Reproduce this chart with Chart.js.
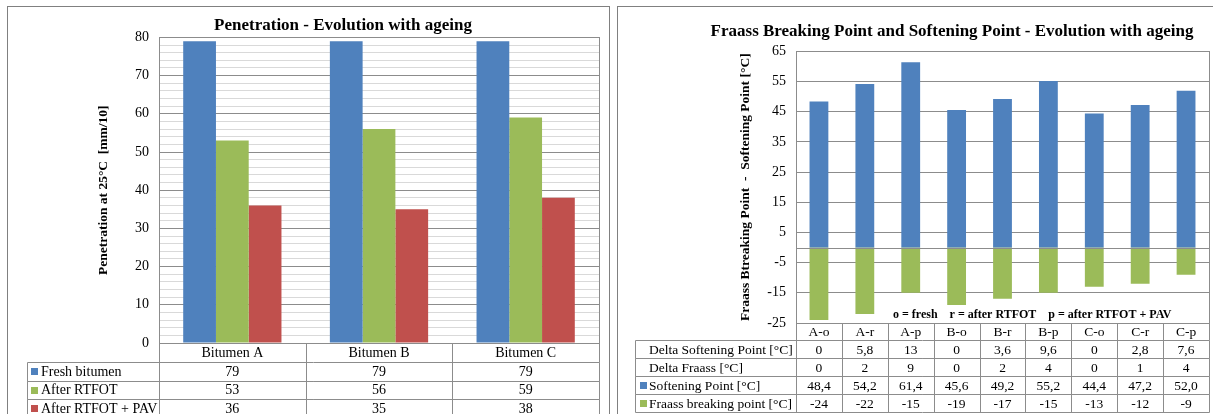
<!DOCTYPE html>
<html>
<head>
<meta charset="utf-8">
<title>Penetration / Fraass and Softening Point</title>
<script src="https://cdn.jsdelivr.net/npm/chart.js@4.4.1/dist/chart.umd.min.js"></script>
<style>
  html, body { margin: 0; padding: 0; background: #fff; }
  body { width: 1213px; height: 414px; overflow: hidden; position: relative; }
  .frame { position: absolute; border: 1px solid #808080; box-sizing: border-box; }
  canvas { position: absolute; top: 0; }
</style>
</head>
<body>
<div class="frame" style="left:7px; top:6px; width:603px; height:430px;"></div>
<div class="frame" style="left:617px; top:6px; width:620px; height:430px;"></div>
<canvas id="chartPen" width="613" height="414" style="left:0"></canvas>
<canvas id="chartFraass" width="600" height="414" style="left:613px"></canvas>
<script>
// ---- data: penetration chart
const bitumens = ["Bitumen A", "Bitumen B", "Bitumen C"];
const freshPen = [79, 79, 79];
const rtfotPen = [53, 56, 59];
const pavPen = [36, 35, 38];

// ---- data: Fraass / softening point chart
const samples = ["A-o", "A-r", "A-p", "B-o", "B-r", "B-p", "C-o", "C-r", "C-p"];
const deltaSoftening = [0, 5.8, 13, 0, 3.6, 9.6, 0, 2.8, 7.6];
const deltaFraass = [0, 2, 9, 0, 2, 4, 0, 1, 4];
const softeningPoint = [48.4, 54.2, 61.4, 45.6, 49.2, 55.2, 44.4, 47.2, 52.0];
const fraassPoint = [-24, -22, -15, -19, -17, -15, -13, -12, -9];

const BLUE = "#4f81bd";
const GREEN = "#9bbb59";
const RED = "#c0504d";
const LINE = "#8c8c8c";
const SERIF = "'Times New Roman', 'Liberation Serif', serif";

const comma = (v) => String(v).replace(".", ",");
const comma1 = (v) => v.toFixed(1).replace(".", ",");

/* ==========================
   DATA TABLE UNDER THE PLOT
========================== */
const dataTable = {
  id: "dataTable",
  afterDraw(chart, args, opts) {
    const { ctx, chartArea: area } = chart;
    const x = chart.scales.x;
    const n = chart.data.labels.length;
    const colW = area.width / n;
    const px = (v) => Math.round(v) + 0.5;

    ctx.save();
    ctx.strokeStyle = LINE;
    ctx.lineWidth = 1;
    ctx.fillStyle = "#000";
    ctx.font = opts.fontSize + "px " + SERIF;
    ctx.textBaseline = "middle";

    // plot box
    ctx.strokeRect(px(area.left), px(area.top), Math.round(area.width), Math.round(area.height));

    // header row (categories)
    const hTop = area.bottom;
    const hBot = hTop + opts.headerHeight;
    ctx.beginPath();
    ctx.moveTo(px(area.left), px(hTop));
    ctx.lineTo(px(area.right), px(hTop));
    for (let i = 0; i <= n; i++) {
      const cx = px(area.left + i * colW);
      ctx.moveTo(cx, px(hTop));
      ctx.lineTo(cx, px(hBot));
    }
    ctx.stroke();
    ctx.textAlign = "center";
    chart.data.labels.forEach((lab, i) => {
      ctx.fillText(lab, x.getPixelForValue(i), (hTop + hBot) / 2 + 1);
    });

    // data rows
    let top = hBot;
    opts.rows.forEach((row) => {
      const bot = top + opts.rowHeight;
      ctx.beginPath();
      ctx.moveTo(px(opts.left), px(top));
      ctx.lineTo(px(area.right), px(top));
      ctx.moveTo(px(opts.left), px(bot));
      ctx.lineTo(px(area.right), px(bot));
      ctx.moveTo(px(opts.left), px(top));
      ctx.lineTo(px(opts.left), px(bot));
      for (let i = 0; i <= n; i++) {
        const cx = px(area.left + i * colW);
        ctx.moveTo(cx, px(top));
        ctx.lineTo(cx, px(bot));
      }
      ctx.stroke();

      const mid = (top + bot) / 2 + 1;
      if (row.color) {
        ctx.fillStyle = row.color;
        ctx.fillRect(opts.left + opts.keyOffset, Math.round(mid - 4), 7, 7);
      }
      ctx.fillStyle = "#000";
      ctx.textAlign = "left";
      ctx.fillText(row.label, opts.left + 14, mid);
      ctx.textAlign = "center";
      row.values.forEach((v, i) => ctx.fillText(v, x.getPixelForValue(i), mid));
      top = bot;
    });

    // note above the table
    if (opts.note) {
      ctx.font = "bold 12px " + SERIF;
      ctx.textAlign = "left";
      ctx.fillText(opts.note, area.left + 97, area.bottom - 8);
    }
    ctx.restore();
  },
};

const zeroLine = {
  id: "zeroLine",
  afterDatasetsDraw(chart, args, opts) {
    if (!opts.show) return;
    const { ctx, chartArea: area } = chart;
    const y = Math.round(chart.scales.y.getPixelForValue(0)) + 0.5;
    ctx.save();
    ctx.strokeStyle = LINE;
    ctx.lineWidth = 1;
    ctx.beginPath();
    ctx.moveTo(area.left, y);
    ctx.lineTo(area.right, y);
    ctx.stroke();
    ctx.restore();
  },
};

function fixAxis(width) {
  return (s) => {
    if (width !== undefined) s.width = width;
    else s.height = 0;
    s.paddingTop = 0;
    s.paddingBottom = 0;
    s.paddingLeft = 0;
    s.paddingRight = 0;
  };
}

function createPenetrationChart(ctx) {
  return new Chart(ctx, {
    type: "bar",
    data: {
      labels: bitumens,
      datasets: [
        { label: "Fresh bitumen", data: freshPen, backgroundColor: BLUE },
        { label: "After RTFOT", data: rtfotPen, backgroundColor: GREEN },
        { label: "After RTFOT + PAV", data: pavPen, backgroundColor: RED },
      ],
    },
    plugins: [dataTable],
    options: {
      responsive: false,
      animation: false,
      devicePixelRatio: 1,
      layout: { padding: { left: 87, right: 14, top: 6, bottom: 71 } },
      datasets: { bar: { categoryPercentage: 0.67, barPercentage: 1.0, borderWidth: 0 } },
      scales: {
        x: {
          ticks: { display: false },
          grid: { display: false, drawTicks: false },
          border: { display: false },
          afterFit: fixAxis(),
        },
        y: {
          min: 0,
          max: 80,
          ticks: {
            stepSize: 2,
            autoSkip: false,
            padding: 10,
            color: "#000",
            font: { family: SERIF, size: 14 },
            callback: (v) => (v % 10 === 0 ? v : ""),
          },
          grid: {
            drawTicks: false,
            color: (c) => (c.tick && c.tick.value % 10 === 0 ? LINE : "#d9d9d9"),
          },
          border: { display: false },
          title: {
            display: true,
            text: "Penetration at 25°C  [mm/10]",
            color: "#000",
            font: { family: SERIF, size: 13.5, weight: "bold" },
            padding: { top: 8, bottom: 0 },
          },
          afterFit: fixAxis(72),
        },
      },
      plugins: {
        legend: { display: false },
        tooltip: { enabled: false },
        title: {
          display: true,
          text: "Penetration - Evolution with ageing",
          color: "#000",
          font: { family: SERIF, size: 17, weight: "bold" },
          padding: { top: 9, bottom: 2 },
        },
        dataTable: {
          left: 27,
          keyOffset: 4,
          fontSize: 14,
          headerHeight: 19,
          rowHeight: 18.5,
          rows: [
            { label: "Fresh bitumen", color: BLUE, values: freshPen.map(String) },
            { label: "After RTFOT", color: GREEN, values: rtfotPen.map(String) },
            { label: "After RTFOT + PAV", color: RED, values: pavPen.map(String) },
          ],
        },
      },
    },
  });
}

function createFraassChart(ctx) {
  return new Chart(ctx, {
    type: "bar",
    data: {
      labels: samples,
      datasets: [
        { label: "Softening Point [°C]", data: softeningPoint, backgroundColor: BLUE },
        { label: "Fraass breaking point [°C]", data: fraassPoint, backgroundColor: GREEN },
      ],
    },
    plugins: [zeroLine, dataTable],
    options: {
      responsive: false,
      animation: false,
      devicePixelRatio: 1,
      layout: { padding: { left: 82, right: 4, top: 6, bottom: 91 } },
      datasets: { bar: { categoryPercentage: 1.0, barPercentage: 0.41, borderWidth: 0 } },
      scales: {
        x: {
          stacked: true,
          ticks: { display: false },
          grid: { display: false, drawTicks: false },
          border: { display: false },
          afterFit: fixAxis(),
        },
        y: {
          stacked: true,
          min: -25,
          max: 65,
          ticks: {
            stepSize: 10,
            padding: 10,
            color: "#000",
            font: { family: SERIF, size: 14 },
          },
          grid: { drawTicks: false, color: LINE },
          border: { display: false },
          title: {
            display: true,
            text: "Fraass Btreaking Point  -  Softening Point [°C]",
            color: "#000",
            font: { family: SERIF, size: 13.5, weight: "bold" },
            padding: { top: 42, bottom: 0 },
          },
          afterFit: fixAxis(101),
        },
      },
      plugins: {
        legend: { display: false },
        tooltip: { enabled: false },
        zeroLine: { show: true },
        title: {
          display: true,
          text: "Fraass Breaking Point and Softening Point - Evolution with ageing",
          color: "#000",
          font: { family: SERIF, size: 17, weight: "bold" },
          padding: { top: 15, bottom: 10 },
        },
        dataTable: {
          left: 22,
          keyOffset: 5,
          fontSize: 13.5,
          headerHeight: 17,
          rowHeight: 18,
          note: "o = fresh    r = after RTFOT    p = after RTFOT + PAV",
          rows: [
            { label: "Delta Softening Point [°C]", color: null, values: deltaSoftening.map(comma) },
            { label: "Delta Fraass [°C]", color: null, values: deltaFraass.map(comma) },
            { label: "Softening Point [°C]", color: BLUE, values: softeningPoint.map(comma1) },
            { label: "Fraass breaking point [°C]", color: GREEN, values: fraassPoint.map(String) },
          ],
        },
      },
    },
  });
}

try {
  createPenetrationChart(document.getElementById("chartPen").getContext("2d"));
  createFraassChart(document.getElementById("chartFraass").getContext("2d"));
} catch (e) {
  console.warn("Chart init failed", e);
}
</script>
</body>
</html>
